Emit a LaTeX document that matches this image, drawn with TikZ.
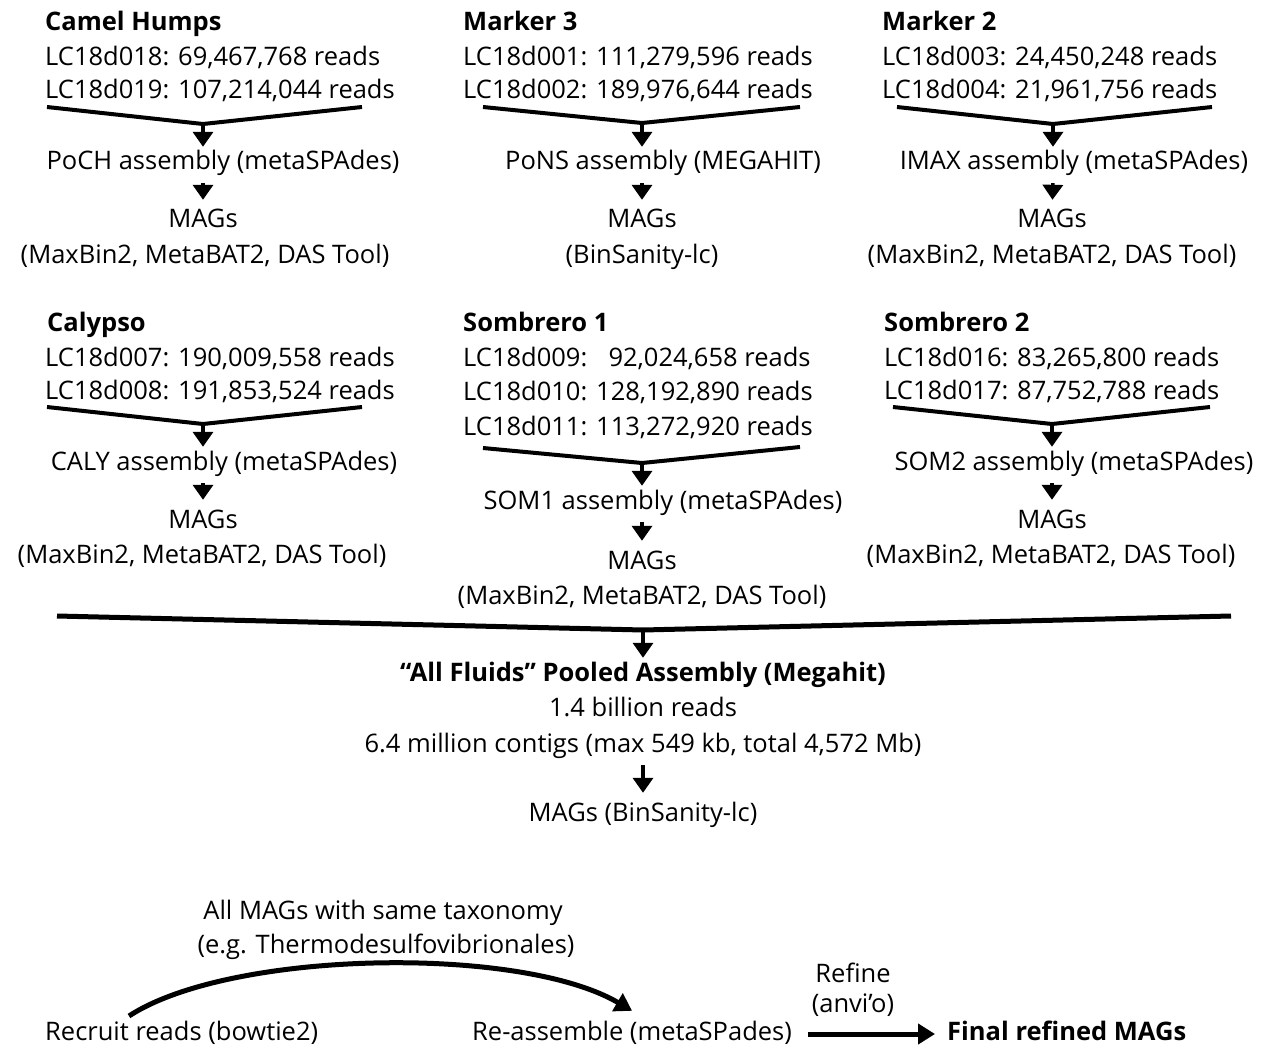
\documentclass[tikz,border=0pt]{standalone}
\usepackage{fontspec}
\setmainfont{Open Sans}
\usetikzlibrary{arrows.meta}

\tikzset{
  txt/.style={inner sep=0pt, font=\fontsize{25.5}{30}\selectfont,
    text height=18pt, text depth=6pt},
  lft/.style={txt, anchor=base west},
  ctr/.style={txt, anchor=base},
  hd/.style={lft, font=\fontsize{25.5}{30}\selectfont\bfseries},
  merge/.style={line width=4pt, line join=round},
  arr/.style={-{Triangle[width=20pt,length=15pt]}, line width=3.5pt},
  arrtop/.style={arr, shorten >=5pt},
  arrlow/.style={arr, shorten <=7pt, shorten >=10pt},
  bigarr/.style={-{Triangle[width=20pt,length=17pt]}, line width=5pt}
}

\begin{document}
\begin{tikzpicture}[x=1pt,y=-1pt]
  \useasboundingbox (0,0) rectangle (1269,1051);

  % top row
  \node[hd] (t1) at (45,31) {Camel Humps};
  \node[lft] (s11) at (45,66) {LC18d018: 69,467,768 reads};
  \node[lft] (s12) at (45,99) {LC18d019: 107,214,044 reads};
  \coordinate (l1) at (47,107);
  \coordinate (v1) at (203,124);
  \coordinate (r1) at (362,107);
  \node[ctr] (a1) at (223,170) {PoCH assembly (metaSPAdes)};
  \node[ctr] (g1) at (203,228) {MAGs};
  \node[ctr] (b1) at (205,263) {(MaxBin2, MetaBAT2, DAS Tool)};

  \node[hd] (t2) at (463,31) {Marker 3};
  \node[lft] (s21) at (463,66) {LC18d001: 111,279,596 reads};
  \node[lft] (s22) at (463,99) {LC18d002: 189,976,644 reads};
  \coordinate (l2) at (483,107);
  \coordinate (v2) at (642,123);
  \coordinate (r2) at (800,107);
  \node[ctr] (a2) at (663,170) {PoNS assembly (MEGAHIT)};
  \node[ctr] (g2) at (642,228) {MAGs};
  \node[ctr] (b2) at (642,263) {(BinSanity-lc)};

  \node[hd] (t3) at (882,31) {Marker 2};
  \node[lft] (s31) at (882,66) {LC18d003: 24,450,248 reads};
  \node[lft] (s32) at (882,99) {LC18d004: 21,961,756 reads};
  \coordinate (l3) at (897,107);
  \coordinate (v3) at (1053,124);
  \coordinate (r3) at (1212,107);
  \node[ctr] (a3) at (1074,170) {IMAX assembly (metaSPAdes)};
  \node[ctr] (g3) at (1052,228) {MAGs};
  \node[ctr] (b3) at (1052,263) {(MaxBin2, MetaBAT2, DAS Tool)};

  % second row
  \node[hd] (t4) at (47,331) {Calypso};
  \node[lft] (s41) at (45,366) {LC18d007: 190,009,558 reads};
  \node[lft] (s42) at (45,399) {LC18d008: 191,853,524 reads};
  \coordinate (l4) at (47,407);
  \coordinate (v4) at (203,424);
  \coordinate (r4) at (362,407);
  \node[ctr] (a4) at (224,470) {CALY assembly (metaSPAdes)};
  \node[ctr] (g4) at (203,528) {MAGs};
  \node[ctr] (b4) at (202,563) {(MaxBin2, MetaBAT2, DAS Tool)};

  \node[hd] (t5) at (463,331) {Sombrero 1};
  \node[lft] (s51) at (463,366) {LC18d009:\phantom{1}\ 92,024,658 reads};
  \node[lft] (s52) at (463,400) {LC18d010: 128,192,890 reads};
  \node[lft] (s53) at (463,435) {LC18d011: 113,272,920 reads};
  \coordinate (l5) at (483,448);
  \coordinate (v5) at (642,463);
  \coordinate (r5) at (800,447);
  \node[ctr] (a5) at (663,509) {SOM1 assembly (metaSPAdes)};
  \node[ctr] (g5) at (642,569) {MAGs};
  \node[ctr] (b5) at (642,604) {(MaxBin2, MetaBAT2, DAS Tool)};

  \node[hd] (t6) at (884,331) {Sombrero 2};
  \node[lft] (s61) at (884,366) {LC18d016: 83,265,800 reads};
  \node[lft] (s62) at (884,399) {LC18d017: 87,752,788 reads};
  \coordinate (l6) at (893,407);
  \coordinate (v6) at (1052,424);
  \coordinate (r6) at (1210,407);
  \node[ctr] (a6) at (1074,470) {SOM2 assembly (metaSPAdes)};
  \node[ctr] (g6) at (1052,528) {MAGs};
  \node[ctr] (b6) at (1051,563) {(MaxBin2, MetaBAT2, DAS Tool)};

  \foreach \i in {1,...,6} {
    \draw[merge] (l\i) -- (v\i) -- (r\i);
    \draw[arrtop] (v\i) -- (v\i |- a\i.north);
    \draw[arrlow] (v\i |- a\i.south) -- (g\i);
  }

  % pooled assembly
  \coordinate (lb) at (57,616);
  \coordinate (vb) at (643,630);
  \coordinate (rb) at (1231,616);
  \node[ctr,font=\fontsize{25.5}{30}\selectfont\bfseries] (pool) at (643,681)
    {“All Fluids” Pooled Assembly (Megahit)};
  \node[ctr] (n1) at (643,716) {1.4 billion reads};
  \node[ctr] (n2) at (643,752) {6.4 million contigs (max 549 kb, total 4,572 Mb)};
  \node[ctr] (fm) at (643,821) {MAGs (BinSanity-lc)};
  \draw[merge,line width=5pt] (lb) -- (vb) -- (rb);
  \draw[arrtop] (vb) -- (pool);
  \draw[arrlow] (n2) -- (fm);

  % refinement
  \node[ctr] (tax1) at (383,919) {All MAGs with same taxonomy};
  \node[ctr] (tax2) at (386,953) {(e.g. Thermodesulfovibrionales)};
  \node[lft] (rec) at (45,1040) {Recruit reads (bowtie2)};
  \node[lft] (reas) at (472,1040) {Re-assemble (metaSPades)};
  \node[hd] (fin) at (947,1040) {Final refined MAGs};
  \node[ctr] (refine) at (853,982) {Refine};
  \node[ctr] (anvio) at (853,1012) {(anvi’o)};
  \coordinate (cs) at (129,1016);
  \draw[bigarr] (cs) .. controls (230,950) and (520,945) .. ([yshift=11pt]reas.north);
  \draw[bigarr, shorten <=16pt, shorten >=12pt] (reas) -- (fin);
\end{tikzpicture}
\end{document}
